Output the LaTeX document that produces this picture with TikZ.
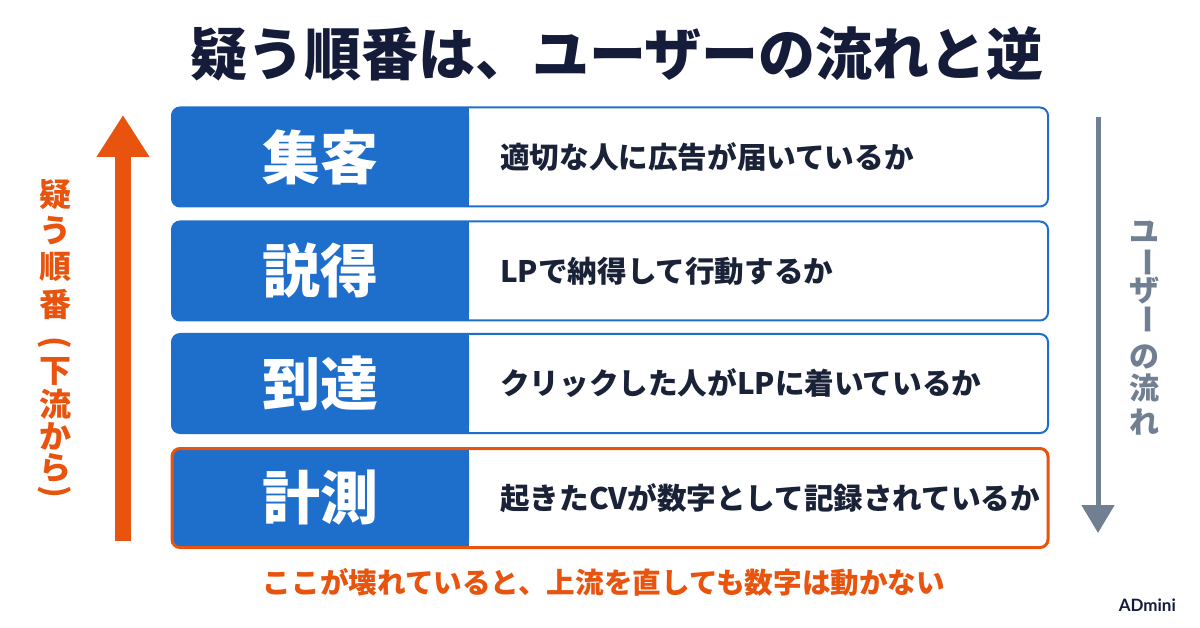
\documentclass[tikz,border=0pt]{standalone}
\usepackage{fontspec}
\setmainfont{Noto Sans CJK JP}
\newfontfamily\latinfont{Lato}
\usetikzlibrary{arrows.meta}
\definecolor{mblue}{RGB}{30,111,204}
\definecolor{morange}{RGB}{232,84,14}
\definecolor{mgray}{RGB}{112,128,146}
\definecolor{navy}{RGB}{20,28,58}
\definecolor{ink}{RGB}{26,34,56}
\begin{document}
\begin{tikzpicture}[x=1pt,y=-1pt,
  keybox/.style={fill=mblue, rounded corners=8pt, minimum width=297pt, minimum height=99pt, inner sep=0pt},
  keytxt/.style={inner sep=0pt, text=white, font=\fontsize{58}{58}\selectfont\bfseries},
  rowbox/.style={draw=mblue, line width=2pt, rounded corners=8pt, minimum width=876pt, minimum height=99pt, inner sep=0pt},
  rowtxt/.style={anchor=west, inner sep=0pt, text=ink, font=\fontsize{29.6}{30}\selectfont\bfseries},
  lefttxt/.style={inner sep=0pt, text=morange, font=\fontsize{32}{32}\selectfont\bfseries},
  righttxt/.style={inner sep=0pt, text=mgray, font=\fontsize{30}{30}\selectfont\bfseries}]
\useasboundingbox[fill=white] (0,0) rectangle (1200,628);

% title
\node[inner sep=0pt, text=navy, font=\fontsize{57}{57}\selectfont\bfseries] (title) at (617,54) {疑う順番は、ユーザーの流れと逆};

% rows
\foreach \n/\yy/\k/\t in {1/157/集客/適切な人に広告が届いているか, 2/271/説得/LPで納得して行動するか, 3/383.5/到達/クリックした人がLPに着いているか, 4/498/計測/起きたCVが数字として記録されているか}{
  \node[keybox] (k\n) at (320.5,\yy) {};
  \fill[mblue] ([xshift=-12pt]k\n.north east) rectangle (k\n.south east);
  \node[keytxt] (kt\n) at (k\n.center) {\k};
  \node[rowtxt] (t\n) at (500,\yy) {\t};
}
\node[rowbox] (r1) at (610,157) {};
\node[rowbox] (r2) at (610,271) {};
\node[rowbox] (r3) at (610,383.5) {};
\node[rowbox, draw=morange, line width=3pt] (r4) at (610,498) {};

% left arrow
\coordinate (ub) at (123,541);
\coordinate (ut) at (123,115);
\draw[morange, line width=16pt, -{Triangle[width=50pt,length=42pt]}] (ub) -- (ut);

\foreach \c/\yy [count=\i] in {疑/195, う/231, 順/267, 番/304, 下/371, 流/404, か/436, ら/468}{
  \node[lefttxt] (q\i) at (55,\yy) {\c};
}
\node[lefttxt, rotate=-90] (qp1) at (55,343) {(};
\node[lefttxt, rotate=-90] (qp2) at (55,492) {)};

% right arrow
\coordinate (db) at (1098,117);
\coordinate (dt) at (1098,533);
\draw[mgray, line width=5pt, -{Triangle[width=32pt,length=28pt]}] (db) -- (dt);

\foreach \c/\yy [count=\i] in {ユ/232, ザ/291, の/357, 流/388, れ/422}{
  \node[righttxt] (u\i) at (1144,\yy) {\c};
}
\node[righttxt, rotate=-90] (ub1) at (1144,263) {ー};
\node[righttxt, rotate=-90] (ub2) at (1144,320) {ー};

% bottom note
\node[inner sep=0pt, text=morange, font=\fontsize{28.6}{29}\selectfont\bfseries] (note) at (604,582) {ここが壊れていると、上流を直しても数字は動かない};

% brand
\node[anchor=east, inner sep=0pt, text=navy, font=\latinfont\fontsize{17}{17}\selectfont\bfseries] (brand) at (1176,605) {ADmini};
\end{tikzpicture}
\end{document}
